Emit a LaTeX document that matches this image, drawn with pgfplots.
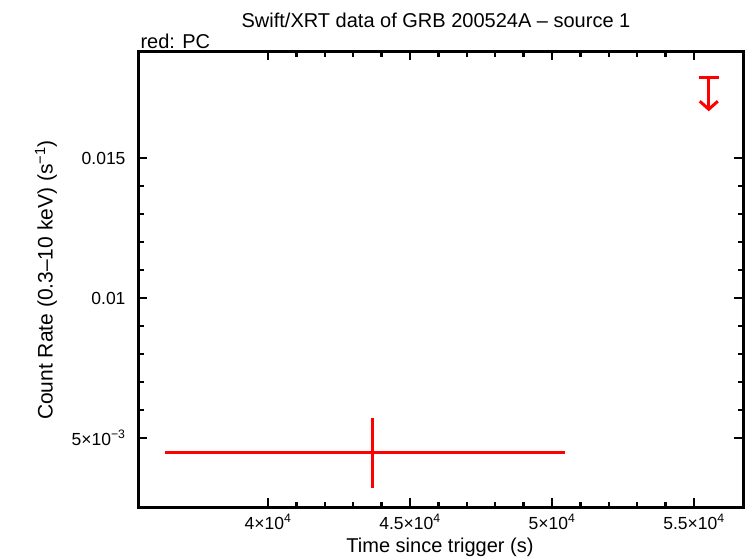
\documentclass[border=0pt]{standalone}
\usepackage{pgfplots}
\pgfplotsset{compat=1.18}
\usepackage{fontspec}
\setmainfont{Liberation Sans}
\usetikzlibrary{arrows.meta}
\begin{document}
\begin{tikzpicture}[x=1pt,y=1pt]
\useasboundingbox (0,0) rectangle (746,558);
\begin{axis}[
  at={(138pt,51pt)}, anchor=south west,
  scale only axis, width=605pt, height=456pt,
  xmin=35423, xmax=56725, ymin=0.002527, ymax=0.018835,
  axis line style={line width=3pt},
  xtick={40000,45000,50000,55000},
  xticklabels={4×10\textsuperscript{4},4.5×10\textsuperscript{4},5×10\textsuperscript{4},5.5×10\textsuperscript{4}},
  ytick={0.005,0.01,0.015},
  yticklabels={5×10\textsuperscript{−3},0.01,0.015},
  minor x tick num=4, minor y tick num=4,
  tick align=inside,
  major tick length=9pt, minor tick length=5.5pt,
  every tick/.style={black, line width=2.4pt},
  tick label style={font=\fontsize{17.5}{20}\selectfont},
  xticklabel style={yshift=-4pt},
  yticklabel style={xshift=-9pt},
  scaled ticks=false,
  clip=false,
]
\addplot[red, line width=3pt, mark=none,
  error bars/.cd, x dir=both, x explicit, y dir=both, y explicit,
  error bar style={line width=3pt}, error mark=none]
  coordinates {(43697,0.004462) += (6761,0.001255) -= (7324,0.001254)};
\addplot[red, line width=3pt, mark=none, draw=none,
  error bars/.cd, x dir=both, x explicit,
  error bar style={line width=3pt, red}, error mark=none]
  coordinates {(55520,0.0179) +- (350,0)};
\addplot[red, line width=3pt, -{Straight Barb[length=8pt,width=18pt,line width=3pt]},
  quiver={u=\thisrow{u}, v=\thisrow{v}}]
  table[x=x,y=y] {
  x y u v
  55520 0.0179 0 -0.00122
  };
\end{axis}
\node[font=\fontsize{20}{24}\selectfont] at (436,538) {Swift/XRT data of GRB 200524A – source 1};
\node[font=\fontsize{20}{24}\selectfont, anchor=base west] at (137,509) {red: PC};
\node[font=\fontsize{20}{24}\selectfont] at (440,11) {Time since trigger (s)};
\node[font=\fontsize{21}{24}\selectfont, rotate=90] at (46,278) {Count Rate (0.3–10 keV) (s\textsuperscript{−1})};
\end{tikzpicture}
\end{document}
